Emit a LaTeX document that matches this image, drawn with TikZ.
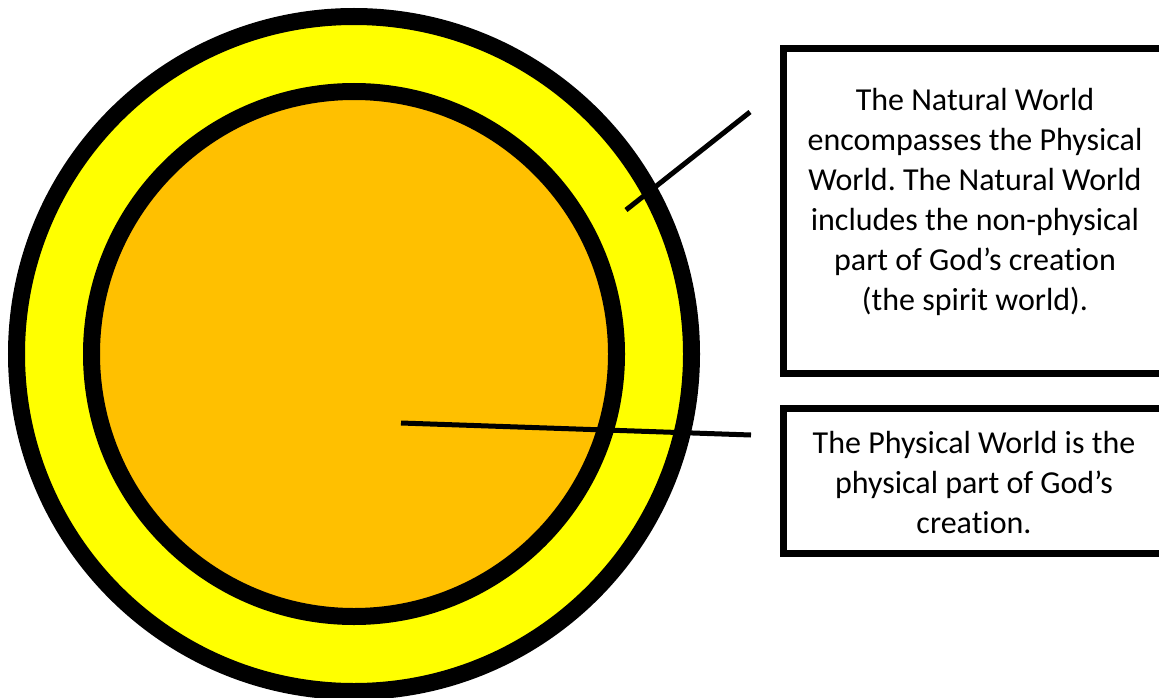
\documentclass[tikz,border=0pt]{standalone}
\usepackage{fontspec}
\setmainfont{Carlito}[Ligatures=NoCommon]
\frenchspacing
\definecolor{ringyellow}{HTML}{FFFF00}
\definecolor{coreorange}{HTML}{FFC000}
\begin{document}
\begin{tikzpicture}[x=1pt,y=-1pt,
  ring/.style={circle,draw=black,line width=17pt,inner sep=0pt,outer sep=0pt},
  infobox/.style={rectangle,draw=black,line width=7pt,inner sep=0pt,fill=white},
  infotext/.style={align=center,inner sep=0pt,anchor=north,font=\fontsize{32}{40}\selectfont},
  callout/.style={draw=black,line width=5pt}]
\useasboundingbox (0,0) rectangle (1159,698);
\node[ring,fill=ringyellow,minimum size=675pt] (natural) at (354,354) {};
\node[ring,fill=coreorange,minimum size=525pt] (physical) at (354,354) {};
% boxes
\node[infobox,minimum width=384pt,minimum height=325pt] (box1) at (975.5,211) {};
\node[infobox,minimum width=384pt,minimum height=145pt] (box2) at (975.5,481) {};
\node[infotext] (t1) at (975,88) {The Natural World\\encompasses the Physical\\World. The Natural World\\includes the non-physical\\part of God’s creation\\(the spirit world).};
\node[infotext] (t2) at (974,431) {The Physical World is the\\physical part of God’s\\creation.};
% callouts
\coordinate (c1a) at (626,210);
\coordinate (c1b) at (750,112);
\coordinate (c2a) at (401,423);
\coordinate (c2b) at (751,435);
\draw[callout] (c1a) -- (c1b);
\draw[callout] (c2a) -- (c2b);
\end{tikzpicture}
\end{document}
